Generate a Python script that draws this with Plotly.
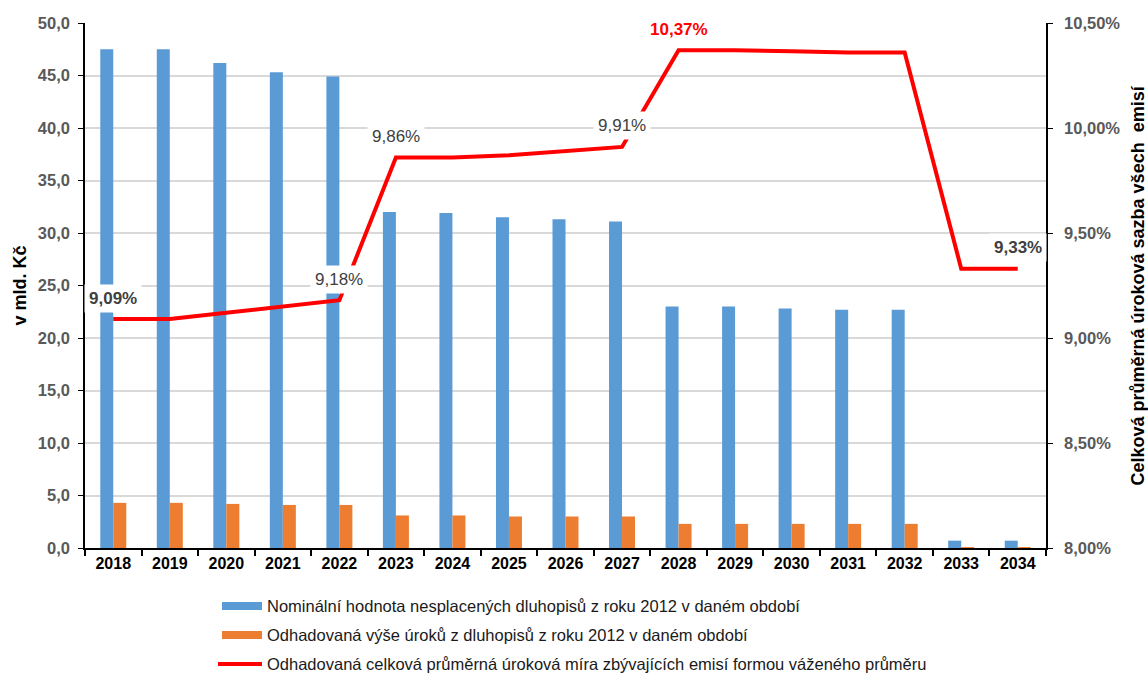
import plotly.graph_objects as go

# Bond redemption profile of the 2012 issues
years = ["2018", "2019", "2020", "2021", "2022", "2023", "2024", "2025", "2026",
         "2027", "2028", "2029", "2030", "2031", "2032", "2033", "2034"]
nominal = [47.5, 47.5, 46.2, 45.3, 44.9, 32.0, 31.9, 31.5, 31.3, 31.1,
           23.0, 23.0, 22.8, 22.7, 22.7, 0.7, 0.7]
interest = [4.3, 4.3, 4.2, 4.1, 4.1, 3.1, 3.1, 3.0, 3.0, 3.0,
            2.3, 2.3, 2.3, 2.3, 2.3, 0.05, 0.05]
rate = [9.09, 9.09, 9.12, 9.15, 9.18, 9.86, 9.86, 9.87, 9.89, 9.91,
        10.37, 10.37, 10.365, 10.36, 10.36, 9.33, 9.33]

# Which points of the rate line get a value label, and how
label_idx = [0, 4, 5, 9, 10, 16]
label_bold = [True, False, False, False, True, True]
label_color = ["#404040", "#404040", "#404040", "#404040", "#ff0000", "#404040"]

series_names = [
    "Nominální hodnota nesplacených dluhopisů z roku 2012 v daném období",
    "Odhadovaná výše úroků z dluhopisů z roku 2012 v daném období",
    "Odhadovaná celková průměrná úroková míra zbývajících emisí formou váženého průměru",
]
BLUE = "#5b9bd5"
ORANGE = "#ed7d31"
RED = "#ff0000"
FONT = "Liberation Sans, Arial, sans-serif"

fig = go.Figure()
fig.add_trace(go.Bar(x=years, y=nominal, name=series_names[0], marker_color=BLUE,
                     marker_line_width=0, showlegend=False))
fig.add_trace(go.Bar(x=years, y=interest, name=series_names[1], marker_color=ORANGE,
                     marker_line_width=0, showlegend=False))
fig.add_trace(go.Scatter(x=years, y=rate, name=series_names[2], yaxis="y2",
                         mode="lines", line=dict(color=RED, width=4),
                         showlegend=False))

annotations = []
for i, bold, col in zip(label_idx, label_bold, label_color):
    txt = f"{rate[i]:.2f}".replace(".", ",") + "%"
    if bold:
        txt = f"<b>{txt}</b>"
    # category axis: position by category index
    annotations.append(dict(
        x=i, y=rate[i], xref="x", yref="y2", text=txt, showarrow=False,
        yshift=21, bgcolor="white", borderpad=4,
        font=dict(family=FONT, size=17, color=col)))

# Axis titles
annotations.append(dict(
    x=(19 - 85) / 961, y=0.5, xref="paper", yref="paper", text="<b>v mld. Kč</b>",
    xanchor="center", yanchor="middle",
    textangle=-90, showarrow=False, font=dict(family=FONT, size=18, color="black")))
annotations.append(dict(
    x=(1137 - 85) / 961, y=0.5, xref="paper", yref="paper",
    text="<b>Celková průměrná úroková sazba všech  emisí</b>",
    xanchor="center", yanchor="middle",
    textangle=-90, showarrow=False, font=dict(family=FONT, size=18, color="black")))

# Legend drawn below the plot area
W, H0, PH = 961.0, 548.0, 525.0
def px(xp):
    return (xp - 85) / W
def py(yp):
    return (H0 - yp) / PH

shapes = []
rows = [606, 635, 664]
shapes.append(dict(type="rect", xref="paper", yref="paper", x0=px(222), x1=px(262),
                   y0=py(rows[0] + 4), y1=py(rows[0] - 4), fillcolor=BLUE, line_width=0))
shapes.append(dict(type="rect", xref="paper", yref="paper", x0=px(222), x1=px(262),
                   y0=py(rows[1] + 4), y1=py(rows[1] - 4), fillcolor=ORANGE, line_width=0))
shapes.append(dict(type="line", xref="paper", yref="paper", x0=px(218), x1=px(262),
                   y0=py(rows[2]), y1=py(rows[2]), line=dict(color=RED, width=4)))
for name, r in zip(series_names, rows):
    annotations.append(dict(
        x=px(265), y=py(r), xref="paper", yref="paper", text=name, showarrow=False,
        xanchor="left", yanchor="middle",
        font=dict(family=FONT, size=16.5, color="#1a1a1a")))

fig.update_layout(
    width=1148, height=673,
    margin=dict(l=85, r=102, t=23, b=125, autoexpand=False),
    paper_bgcolor="white", plot_bgcolor="white",
    separators=", ",
    barmode="group", bargap=0.54, bargroupgap=0,
    font=dict(family=FONT),
    xaxis=dict(type="category", range=[-0.5, len(years) - 0.5],
               tickson="boundaries", ticks="outside", ticklen=6,
               tickcolor="black", tickwidth=1.5, showline=True, linecolor="black",
               linewidth=1.5, showgrid=False, tickangle=0,
               tickfont=dict(family=FONT, size=16, color="black", weight="bold")),
    yaxis=dict(range=[0, 50], dtick=5, tickformat=".1f", showgrid=True,
               gridcolor="#d9d9d9", gridwidth=1.5, zeroline=False,
               showline=True, linecolor="black", linewidth=1.5,
               ticks="outside", ticklen=5, tickcolor="black", ticklabelstandoff=5,
               tickfont=dict(family=FONT, size=16.5, color="#595959", weight="bold")),
    yaxis2=dict(range=[8, 10.5], dtick=0.5, tickformat=".2f", ticksuffix="%",
                overlaying="y", side="right", showgrid=False, zeroline=False,
                showline=True, linecolor="black", linewidth=1.5,
                ticks="outside", ticklen=5, tickcolor="black", ticklabelstandoff=8,
                tickfont=dict(family=FONT, size=16.5, color="#595959", weight="bold")),
    annotations=annotations,
    shapes=shapes,
)

fig.write_html("out.html")
